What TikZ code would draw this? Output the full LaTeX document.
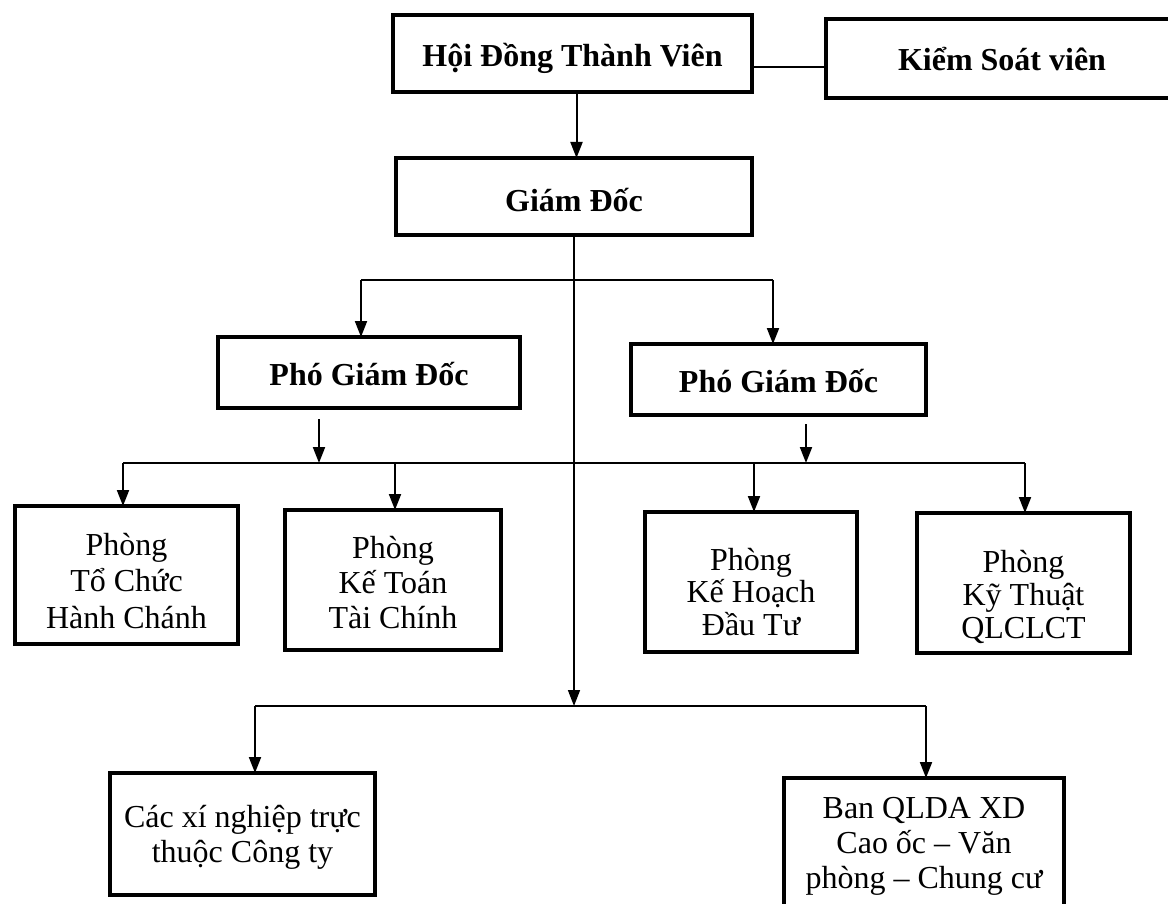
\documentclass[tikz,border=0pt]{standalone}
\usepackage{fontspec}
\setmainfont{Liberation Serif}
\usetikzlibrary{arrows.meta,calc}
\newcommand\myst{\rule[-8pt]{0pt}{32pt}}
\begin{document}
\begin{tikzpicture}[x=1pt,y=-1pt,
  box/.style={draw,line width=3.2pt,rectangle,outer sep=0pt,inner sep=0pt},
  txt/.style={inner sep=0pt,align=center,font=\fontsize{32}{35}\selectfont},
  btxt/.style={txt,font=\fontsize{32}{35}\selectfont\bfseries},
  conn/.style={line width=2pt},
  tip/.style={-{Triangle[length=16pt,width=12pt]}},
  arr/.style={conn,tip}]
\clip (0,0) rectangle (1168,904);
\fill[white] (0,0) rectangle (1168,904);
% top level boxes
\node[box,minimum width=359pt,minimum height=77pt] (hdtv) at (572.5,53.5) {};
\node[box,minimum width=352pt,minimum height=79pt] (ksv) at (1002,58.5) {};
\node[box,minimum width=356pt,minimum height=77pt] (gd) at (574,196.5) {};
\node[box,minimum width=302pt,minimum height=71pt] (pgd1) at (369,372.5) {};
\node[box,minimum width=295pt,minimum height=71pt] (pgd2) at (778.5,379.5) {};
% departments
\node[box,minimum width=223pt,minimum height=138pt] (p1) at (126.5,575) {};
\node[box,minimum width=216pt,minimum height=140pt] (p2) at (393,580) {};
\node[box,minimum width=212pt,minimum height=140pt] (p3) at (751,582) {};
\node[box,minimum width=213pt,minimum height=140pt] (p4) at (1023.5,583) {};
% bottom
\node[box,minimum width=265pt,minimum height=122pt] (xn) at (242.5,834) {};
\node[box,minimum width=280pt,minimum height=136pt] (ban) at (924,846) {};
% texts
\node[btxt] (hdtvt) at (hdtv.center |- 0,59) {\myst Hội Đồng Thành Viên\myst};
\node[btxt] (ksvt) at (ksv.center |- 0,62.5) {\myst Kiểm Soát viên\myst};
\node[btxt] (gdt) at (gd.center |- 0,204) {\myst Giám Đốc\myst};
\node[btxt] (pgd1t) at (pgd1.center |- 0,377) {\myst Phó Giám Đốc\myst};
\node[btxt] (pgd2t) at (pgd2.center |- 0,384) {\myst Phó Giám Đốc\myst};
\node[txt,font=\fontsize{32}{36.5}\selectfont] (p1t) at (p1.center |- 0,583.5) {\myst Phòng\\Tổ Chức\\Hành Chánh\myst};
\node[txt] (p2t) at (p2.center |- 0,585) {\myst Phòng\\Kế Toán\\Tài Chính\myst};
\node[txt,font=\fontsize{32}{32.5}\selectfont] (p3t) at (p3.center |- 0,594.5) {\myst Phòng\\Kế Hoạch\\Đầu Tư\myst};
\node[txt,font=\fontsize{32}{33}\selectfont] (p4t) at (p4.center |- 0,597) {\myst Phòng\\Kỹ Thuật\\QLCLCT\myst};
\node[txt] (xnt) at (xn.center |- 0,836.5) {\myst Các xí nghiệp trực\\thuộc Công ty\myst};
\node[txt] (bant) at (ban.center |- 0,845) {\myst Ban QLDA XD\\Cao ốc – Văn\\phòng – Chung cư\myst};
% connectors
\draw[conn] ([yshift=-13.5pt]hdtv.east) -- ([yshift=-13.5pt]hdtv.east -| ksv.west);
\draw[arr] ([xshift=4pt]hdtv.south) -- ([xshift=4pt]hdtv.south |- gd.north);
\coordinate (b3) at (574,706);
\draw[conn,line width=1.6pt,tip] (gd.south) -- (b3);
\coordinate (a1) at (361,280);
\coordinate (a2) at (773,280);
\draw[conn] (a1) -- (a2);
\draw[arr] (a1) -- (a1 |- pgd1.north);
\draw[arr] (a2) -- (a2 |- pgd2.north);
\coordinate (c1) at (123,463);
\coordinate (c4) at (1025,463);
\draw[conn] (c1) -- (c4);
\coordinate (s1) at (319,419);
\coordinate (s2) at (806,424);
\draw[arr] (s1) -- (s1 |- c1);
\draw[arr] (s2) -- (s2 |- c1);
\draw[arr] (c1) -- (c1 |- p1.north);
\draw[arr] ([xshift=2pt]p2.north |- c1) -- ([xshift=2pt]p2.north);
\draw[arr] ([xshift=3pt]p3.north |- c1) -- ([xshift=3pt]p3.north);
\draw[arr] (c4) -- (c4 |- p4.north);
\coordinate (d1) at (255,706);
\coordinate (d2) at (926,706);
\draw[conn] (d1) -- (d2);
\draw[arr] (d1) -- (d1 |- xn.north);
\draw[arr] (d2) -- (d2 |- ban.north);
\end{tikzpicture}
\end{document}
